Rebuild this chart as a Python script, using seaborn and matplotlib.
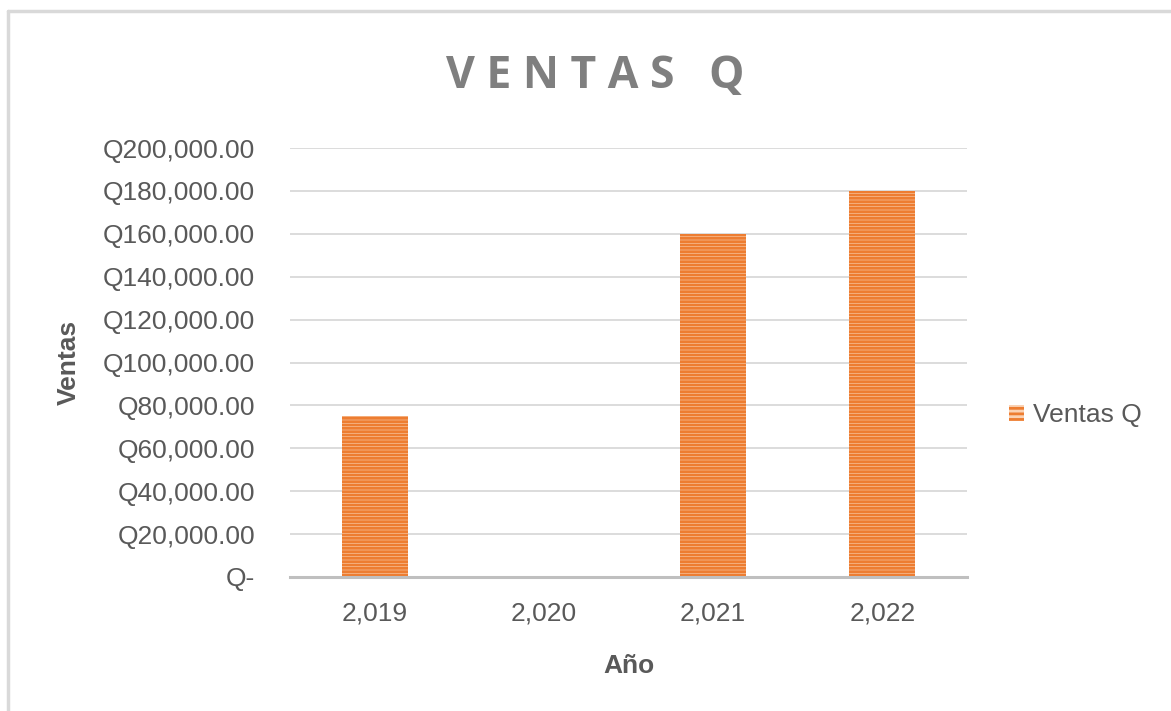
import matplotlib.pyplot as plt
import pandas as pd
import seaborn as sns
from matplotlib.lines import Line2D
from matplotlib.patches import Patch
from matplotlib.ticker import FuncFormatter, MultipleLocator

years = ["2,019", "2,020", "2,021", "2,022"]
ventas = [75000, 0, 160000, 180000]
series_name = "Ventas Q"

df = pd.DataFrame({"Año": years, "Ventas": ventas})

sns.set_theme(style="white")
plt.rcParams["font.family"] = ["Liberation Sans", "DejaVu Sans"]
plt.rcParams["hatch.linewidth"] = 2.0
plt.rcParams["hatch.color"] = "#ED7D31"

fig = plt.figure(figsize=(11.71, 7.11), dpi=100)
ax = fig.add_axes([0.2477, 0.1885, 0.578, 0.6033])

sns.barplot(data=df, x="Año", y="Ventas", ax=ax, width=0.39,
            color="#FAD2B4", saturation=1)
for p in ax.patches:
    p.set_hatch("-----")
    p.set_edgecolor("#ED7D31")
    p.set_linewidth(0)

ax.set_ylim(0, 200000)
ax.yaxis.set_major_locator(MultipleLocator(20000))


def fmt_q(v, _pos):
    if v == 0:
        return "Q-"
    return f"Q{v:,.2f}"


ax.yaxis.set_major_formatter(FuncFormatter(fmt_q))
ax.grid(axis="y", color="#D9D9D9", linewidth=1.3)
ax.set_axisbelow(True)
for side in ["left", "right", "top"]:
    ax.spines[side].set_visible(False)
ax.spines["bottom"].set_color("#BFBFBF")
ax.spines["bottom"].set_linewidth(2.2)

ax.tick_params(axis="both", length=0, labelsize=19, labelcolor="#595959")
ax.tick_params(axis="y", pad=25)
ax.tick_params(axis="x", pad=18)

ax.set_xlabel("Año", fontsize=19, fontweight="bold", color="#595959", labelpad=20)
ax.set_ylabel("Ventas", fontsize=19, fontweight="bold", color="#595959", labelpad=16)

fig.text(0.508, 0.893, "V E N T A S   Q", ha="center", va="center",
         fontsize=32, fontweight="bold", color="#7F7F7F",
         family=["Open Sans", "DejaVu Sans"])

handle = Patch(facecolor="#FAD2B4", edgecolor="#ED7D31", hatch="---", linewidth=0)
leg = fig.legend([handle], [series_name], loc="center left",
                 bbox_to_anchor=(0.862, 0.416), frameon=False, fontsize=19,
                 handlelength=0.55, handleheight=0.55, handletextpad=0.35,
                 borderpad=0, borderaxespad=0)
for t in leg.get_texts():
    t.set_color("#595959")

# chart frame edges
fig.add_artist(Line2D([0.0065, 0.0065], [0, 0.985], color="#D9D9D9", linewidth=2.5))
fig.add_artist(Line2D([0.0065, 1.0], [0.985, 0.985], color="#D9D9D9", linewidth=2.5))

fig.savefig("out.png", dpi=100)
plt.close(fig)
